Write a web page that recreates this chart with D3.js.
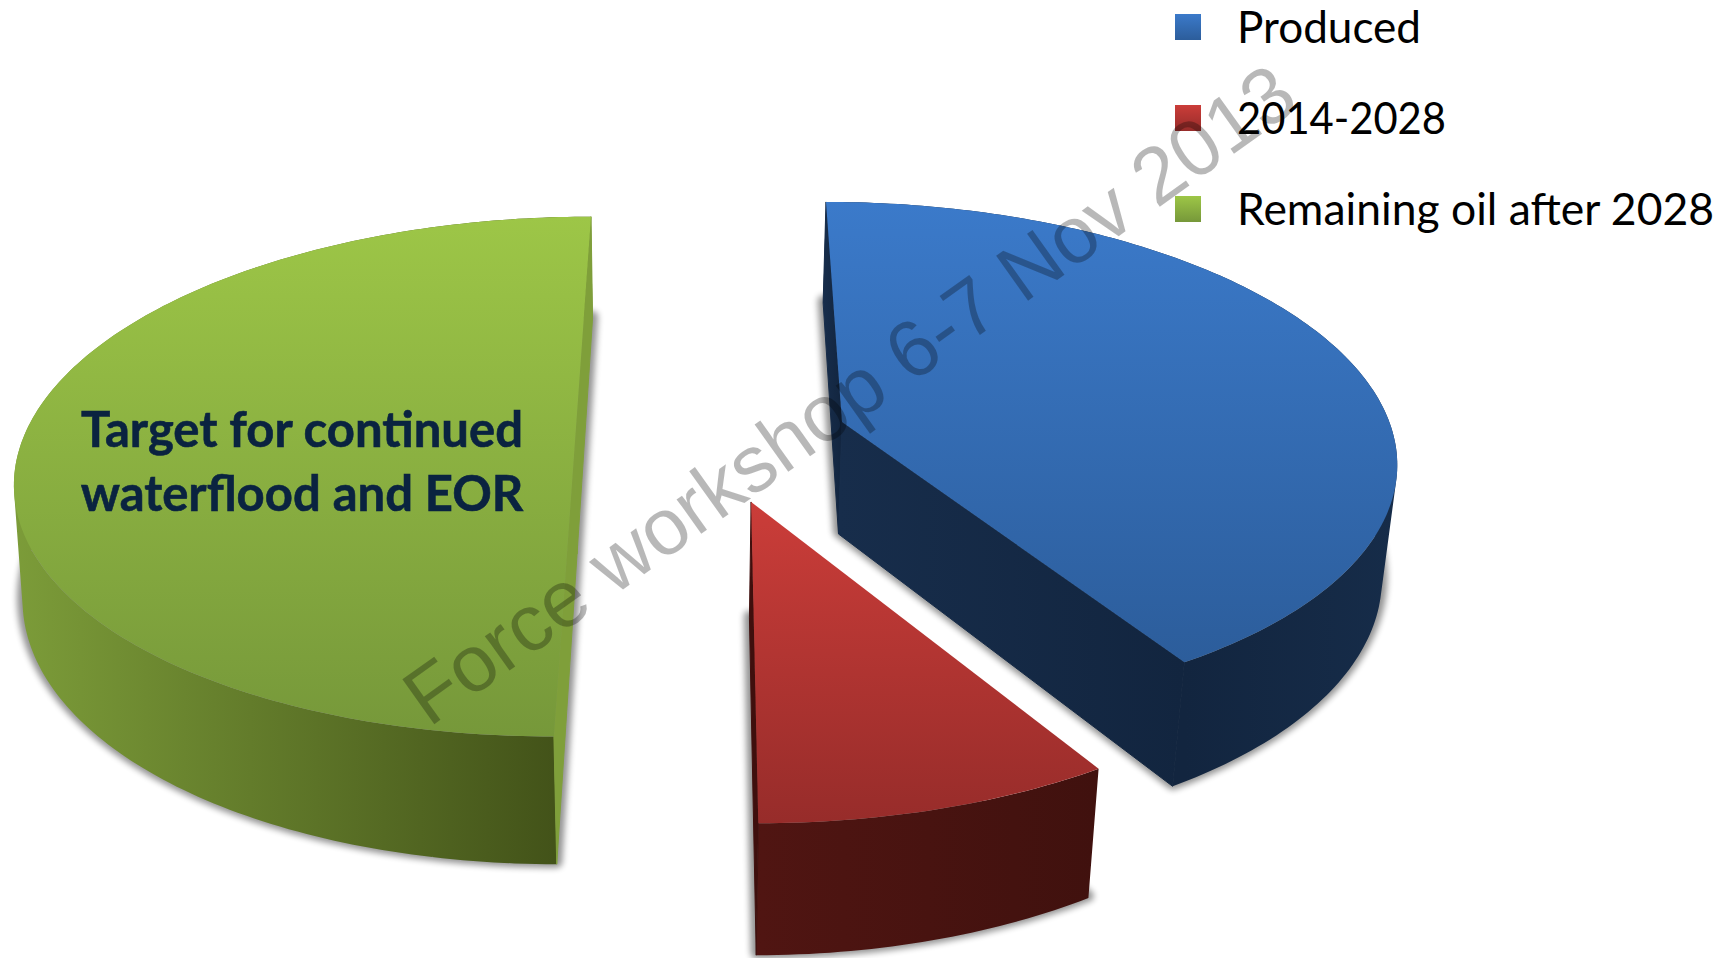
<!DOCTYPE html>
<html>
<head>
<meta charset="utf-8">
<style>
  html, body { margin: 0; padding: 0; background: #fff; }
  svg { display: block; }
</style>
<script src="https://cdn.jsdelivr.net/npm/d3@7/dist/d3.min.js"></script>
</head>
<body>
<svg id="chart" width="1730" height="958"></svg>
<script>
// Oil volume split, per cent of the total
const categories = ["Produced", "2014-2028", "Remaining oil after 2028"];
const shares = [41.2, 8.8, 50];
const annotationLines = ["Target for continued", "waterflood and EOR"];
const watermarkText = "Force workshop 6-7 Nov 2013";

// Per-slice styling, same order as the categories
const topStops = [["#3b7aca", "#2c5d9b"], ["#cb3d39", "#972c2a"], ["#9dc647", "#76983a"]];
const wallStops = [["#12253f", "#162c49"], ["#501512", "#40110e"], ["#7c9c39", "#435319"]];
const cutStops = [["#172d4b", "#12253f"], ["#3f0f0d", "#3f0f0d"], ["#7f9f3a", "#7f9f3a"]];
// How far each slice is pulled out of the pie, in disc radii (across, towards the viewer)
const pullOut = [[0.2448, -0.0753], [0.0755, 0.2314], [-0.2405, 0]];
const discDepth = [1, 1.012, 1];
// Which cut faces can be seen: [at the start angle, at the end angle]
const cutVisible = [[true, true], [false, true], [true, true]];
// Rendered widths of the legend labels
const legendWidths = [184, 209, 477];

const svg = d3.select("#chart");
const defs = svg.append("defs");

// Perspective of the disc's top surface: unit coordinates to page pixels
const vanish = { x: 708, y: -1422 };
const focal = 1863, tilt = 0.1369, spanX = 553;
function topPoint(u, v) {
  const w = 1 - tilt * v;
  return [vanish.x + spanX * u / w, vanish.y + focal / w];
}

// The disc's thickness grows towards the viewer, and its sides lean inwards
const thickness = d3.scaleLinear().domain([202, 823]).range([101, 132]);
const lean = d3.scaleLinear().domain([14, 554, 1186]).range([0.075, 0.022, -0.095]);
function dropPoint([x, y]) {
  const d = thickness(y);
  return [x + lean(x) * d, y + d];
}

const pie = d3.pie().sort(null).value(d => d)(shares);
const line = d3.line().curve(d3.curveLinear);

function rimAngles(slice) {
  const span = slice.endAngle - slice.startAngle;
  const steps = Math.ceil(span * 60);
  return d3.range(steps + 1).map(k => slice.startAngle + span * k / steps);
}
function rimPoint(a, i) {
  const [du, dv] = pullOut[i];
  return topPoint(du + Math.sin(a), dv - discDepth[i] * Math.cos(a));
}

// One compound outline for the wall, every strip wound the same way
function wallPath(rim, rimLow) {
  return d3.pairs(d3.range(rim.length)).map(([a, b]) => {
    const quad = [rim[a], rim[b], rimLow[b], rimLow[a]];
    return line(d3.polygonArea(quad) < 0 ? quad.reverse() : quad) + "Z";
  }).join("");
}

// Soft drop shadow
defs.append("filter").attr("id", "soft")
  .attr("x", "-10%").attr("y", "-10%").attr("width", "120%").attr("height", "120%")
  .append("feGaussianBlur").attr("stdDeviation", 3);

function gradient(id, stops, horizontal, span) {
  const g = defs.append("linearGradient").attr("id", id);
  if (span) {
    g.attr("gradientUnits", "userSpaceOnUse")
      .attr("x1", span[0]).attr("x2", span[1]).attr("y1", 0).attr("y2", 0);
  } else {
    g.attr("x1", 0).attr("y1", 0)
      .attr("x2", horizontal ? 1 : 0).attr("y2", horizontal ? 0 : 1);
  }
  g.append("stop").attr("offset", 0).attr("stop-color", stops[0]);
  g.append("stop").attr("offset", 1).attr("stop-color", stops[1]);
}

const slices = svg.append("g").selectAll("g").data(pie).join("g");

slices.each(function (slice, i) {
  const g = d3.select(this);
  const angles = rimAngles(slice);
  const rim = angles.map(a => rimPoint(a, i));
  const rimLow = rim.map(dropPoint);
  const hub = topPoint(pullOut[i][0], pullOut[i][1]);
  const hubLow = dropPoint(hub);
  const first = rim[0], last = rim[rim.length - 1];

  // Gradients: the wall shades across its front-facing part only
  const frontX = rim.filter((p, k) => Math.cos(angles[k]) < 0.05).map(p => p[0]);
  gradient("top" + i, topStops[i], false);
  gradient("wall" + i, wallStops[i], true, d3.extent(frontX));
  gradient("cut" + i, cutStops[i], true);

  // Shadow cast by the underside
  g.append("path")
    .attr("d", line([hubLow, ...rimLow]) + "Z")
    .attr("fill", "#000").attr("stroke", "#000").attr("stroke-width", 11)
    .attr("stroke-linejoin", "round")
    .attr("opacity", 0.42)
    .attr("transform", "translate(0,-2)")
    .attr("filter", "url(#soft)");

  // Curved outer wall
  g.append("path")
    .attr("d", wallPath(rim, rimLow))
    .attr("fill", `url(#wall${i})`);

  // Flat faces along the cuts; the hairline closes the joint with the wall
  [first, last].forEach((p, k) => {
    if (!cutVisible[i][k]) return;
    g.append("path")
      .attr("d", line([hub, p, dropPoint(p), hubLow]) + "Z")
      .attr("fill", `url(#cut${i})`)
      .attr("stroke", `url(#cut${i})`)
      .attr("stroke-width", 1);
  });

  // Top surface
  g.append("path")
    .attr("d", line([hub, ...rim]) + "Z")
    .attr("fill", `url(#top${i})`);
});

// Annotation on the remaining-oil slice
svg.append("g").selectAll("text").data(annotationLines).join("text")
  .attr("x", 302)
  .attr("y", (d, i) => 447 + i * 64)
  .attr("text-anchor", "middle")
  .attr("font-family", "Lato, sans-serif")
  .attr("font-weight", 700)
  .attr("font-size", 49)
  .attr("fill", "#0a2340")
  .attr("stroke", "#0a2340")
  .attr("stroke-width", 0.6)
  .text(d => d);

// Legend
const legendRow = d3.scalePoint().domain(categories).range([27, 209]);
const legend = svg.append("g").selectAll("g").data(categories).join("g")
  .attr("transform", d => `translate(0,${legendRow(d)})`);
legend.append("rect")
  .attr("x", 1175).attr("y", -13).attr("width", 26).attr("height", 26)
  .attr("fill", (d, i) => `url(#top${i})`);
legend.append("text")
  .attr("x", 1237).attr("y", 16)
  .attr("font-family", "Lato, sans-serif")
  .attr("font-size", 43.5)
  .attr("textLength", (d, i) => legendWidths[i])
  .attr("lengthAdjust", "spacingAndGlyphs")
  .attr("fill", "#000")
  .text(d => d);

// Diagonal workshop stamp across the whole figure
svg.append("text")
  .attr("transform", "translate(429,728) rotate(-35.5)")
  .attr("font-family", "'Liberation Sans', Arial, sans-serif")
  .attr("font-size", 80)
  .attr("fill", "#000")
  .attr("fill-opacity", 0.28)
  .text(watermarkText);
</script>
</body>
</html>
